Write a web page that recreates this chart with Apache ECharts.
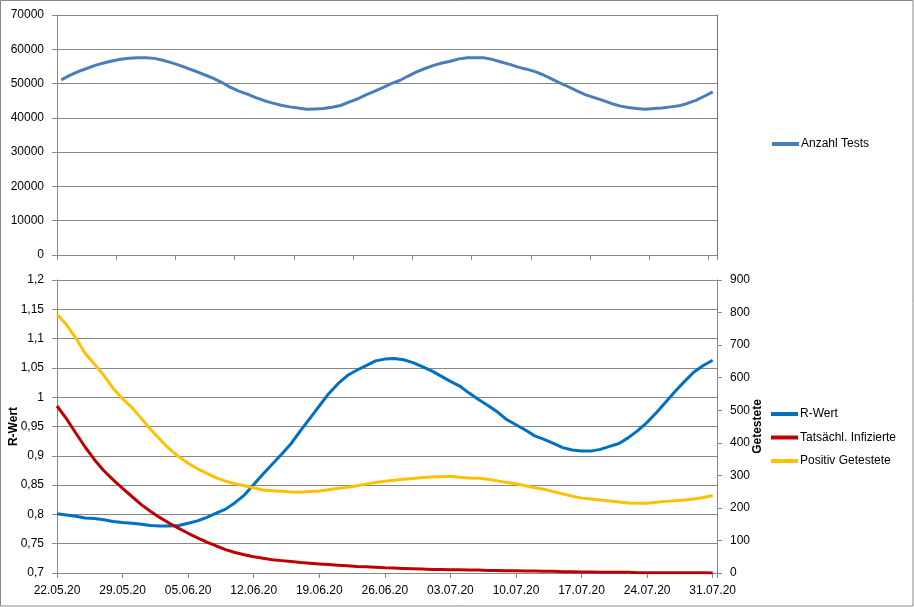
<!DOCTYPE html>
<html><head><meta charset="utf-8">
<script src="https://cdn.jsdelivr.net/npm/echarts@6/dist/echarts.min.js"></script>
<style>html,body{margin:0;padding:0;background:#fff}#c{width:914px;height:607px}</style>
</head><body><div id="c"></div>
<script>
// ---- top chart data ----
const anzahlTests = [
 51100,52400,53500,54400,55300,56000,56600,57100,57400,57550,
 57550,57350,56800,56100,55300,54400,53500,52500,51500,50300,
 48900,47800,46900,45900,45000,44300,43700,43200,42900,42500,
 42600,42700,43100,43600,44600,45500,46700,47700,48800,50000,
 50900,52200,53400,54400,55300,56000,56500,57200,57500,57550,
 57500,57000,56300,55600,54800,54200,53500,52500,51300,50100,
 49000,47800,46700,45900,45100,44200,43500,43000,42700,42500,
 42700,42900,43200,43500,44200,45100,46300,47600
];
const testCategories = anzahlTests.map((_, i) => String(i));

// ---- bottom chart data ----
const dateLabels = ['22.05.20','29.05.20','05.06.20','12.06.20','19.06.20','26.06.20','03.07.20','10.07.20','17.07.20','24.07.20','31.07.20'];
const rWert = [
 0.801,0.799,0.797,0.794,0.793,0.791,0.788,0.786,0.785,0.783,
 0.781,0.780,0.780,0.781,0.785,0.789,0.795,0.802,0.809,0.820,
 0.833,0.851,0.869,0.886,0.903,0.921,0.943,0.964,0.985,1.006,
 1.023,1.037,1.046,1.054,1.062,1.065,1.066,1.064,1.059,1.052,
 1.045,1.036,1.027,1.019,1.007,0.996,0.986,0.975,0.962,0.953,
 0.944,0.934,0.928,0.921,0.914,0.910,0.908,0.908,0.911,0.916,
 0.921,0.931,0.943,0.957,0.974,0.992,1.010,1.027,1.043,1.054,
 1.063
];
const infizierte = [
 513,474,430,387,348,314,286,260,235,210,
 189,170,153,137,122,108,95,83,72,63,
 56,50,45,41,38,35,32,30,28,26,
 24,22,20,19,18,16,15,14,13,12,
 11,11,10,10,9,9,8,8,7,7,
 6,6,5,5,4,4,3,3,2,2,
 2,2,1,1,1,1,1,1,1,1,
 0
];
const positiv = [
 795,763,722,675,641,607,567,535,508,475,
 441,410,381,357,337,320,306,292,282,274,
 268,262,255,253,251,249,248,250,252,256,
 260,263,268,273,278,282,285,288,290,293,
 295,296,297,294,292,291,288,283,278,274,
 268,262,257,250,243,236,230,227,224,221,
 218,215,214,214,217,220,222,224,227,232,
 238
];

const FONT = "'Liberation Sans', Arial, sans-serif";
const GRID = '#878787';
const txt = {color: '#000', fontFamily: FONT, fontSize: 12};

const chart = echarts.init(document.getElementById('c'), null, {renderer: 'canvas'});
const pairs = arr => arr.map((v, i) => [i, v]);
const fmtComma = v => String(+v.toFixed(2)).replace('.', ',');

chart.setOption({
  animation: false,
  backgroundColor: '#fff',
  textStyle: {fontFamily: FONT},
  graphic: [{
    type: 'rect', silent: true, z: -1,
    shape: {x: 0.5, y: 0.5, width: 912.5, height: 605.5},
    style: {fill: 'none', stroke: GRID, lineWidth: 1}
  }],
  grid: [
    {left: 57, top: 15, width: 660, height: 240, outerBoundsMode: 'none', containLabel: false},
    {left: 57, top: 280, width: 660, height: 293, outerBoundsMode: 'none', containLabel: false}
  ],
  legend: [
    {
      data: ['Anzahl Tests'], left: 772, top: 138, orient: 'vertical', padding: 0,
      icon: 'rect', itemWidth: 27, itemHeight: 4,
      textStyle: Object.assign({}, txt, {padding: [0,0,0,-3]})
    },
    {
      data: ['R-Wert', 'Tatsächl. Infizierte', 'Positiv Getestete'],
      left: 771, top: 408, orient: 'vertical', itemGap: 11.5, padding: 0,
      icon: 'rect', itemWidth: 27, itemHeight: 4,
      textStyle: Object.assign({}, txt, {padding: [0,0,0,-3]})
    }
  ],
  xAxis: [
    {
      gridIndex: 0, type: 'category', data: testCategories, boundaryGap: true,
      axisLine: {lineStyle: {color: GRID}},
      axisTick: {show: true, interval: 6, length: 5, lineStyle: {color: GRID}},
      axisLabel: {show: false}, splitLine: {show: false}
    },
    {
      gridIndex: 1, type: 'value', min: 0, max: 70.46, interval: 7,
      axisLine: {lineStyle: {color: GRID}},
      axisTick: {show: true, length: 5, lineStyle: {color: GRID}},
      axisLabel: Object.assign({}, txt, {margin: 12, showMaxLabel: true,
        formatter: v => (Math.abs(v / 7 - Math.round(v / 7)) < 1e-6) ? (dateLabels[Math.round(v / 7)] || '') : ''}),
      splitLine: {show: false}
    }
  ],
  yAxis: [
    {
      gridIndex: 0, type: 'value', min: 0, max: 70000, interval: 10000,
      axisLine: {show: true, lineStyle: {color: GRID}},
      axisTick: {show: true, length: 5, lineStyle: {color: GRID}},
      axisLabel: Object.assign({}, txt, {margin: 13, formatter: v => String(v)}),
      splitLine: {show: true, lineStyle: {color: GRID}}
    },
    {
      gridIndex: 0, type: 'value', position: 'right', min: 0, max: 70000, interval: 10000,
      axisLine: {show: true, lineStyle: {color: '#4A7EBB'}},
      axisTick: {show: false}, axisLabel: {show: false}, splitLine: {show: false}
    },
    {
      gridIndex: 1, type: 'value', min: 0.7, max: 1.2, interval: 0.05,
      name: 'R-Wert', nameLocation: 'middle', nameGap: 37, nameRotate: 90, nameMoveOverlap: false,
      nameTextStyle: {color: '#000', fontFamily: FONT, fontSize: 12, fontWeight: 'bold'},
      axisLine: {show: true, lineStyle: {color: GRID}},
      axisTick: {show: true, length: 5, lineStyle: {color: GRID}},
      axisLabel: Object.assign({}, txt, {margin: 13, formatter: fmtComma}),
      splitLine: {show: true, lineStyle: {color: GRID}}
    },
    {
      gridIndex: 1, type: 'value', position: 'right', min: 0, max: 900, interval: 100,
      name: 'Getestete', nameLocation: 'middle', nameGap: 35, nameRotate: 90, nameMoveOverlap: false,
      nameTextStyle: {color: '#000', fontFamily: FONT, fontSize: 12, fontWeight: 'bold'},
      axisLine: {show: true, lineStyle: {color: GRID}},
      axisTick: {show: true, length: 5, lineStyle: {color: GRID}},
      axisLabel: Object.assign({}, txt, {margin: 13, formatter: v => String(v)}),
      splitLine: {show: false}
    }
  ],
  series: [
    {
      name: 'Anzahl Tests', type: 'line', xAxisIndex: 0, yAxisIndex: 0,
      data: anzahlTests, symbol: 'none', smooth: false,
      lineStyle: {color: '#4A7EBB', width: 3}, itemStyle: {color: '#4A7EBB'}
    },
    {
      name: 'R-Wert', type: 'line', xAxisIndex: 1, yAxisIndex: 2,
      data: pairs(rWert), symbol: 'none',
      lineStyle: {color: '#0070C0', width: 3}, itemStyle: {color: '#0070C0'}
    },
    {
      name: 'Tatsächl. Infizierte', type: 'line', xAxisIndex: 1, yAxisIndex: 3,
      data: pairs(infizierte), symbol: 'none',
      lineStyle: {color: '#C00000', width: 3}, itemStyle: {color: '#C00000'}
    },
    {
      name: 'Positiv Getestete', type: 'line', xAxisIndex: 1, yAxisIndex: 3,
      data: pairs(positiv), symbol: 'none',
      lineStyle: {color: '#FFC000', width: 3}, itemStyle: {color: '#FFC000'}
    }
  ]
});
</script></body></html>
